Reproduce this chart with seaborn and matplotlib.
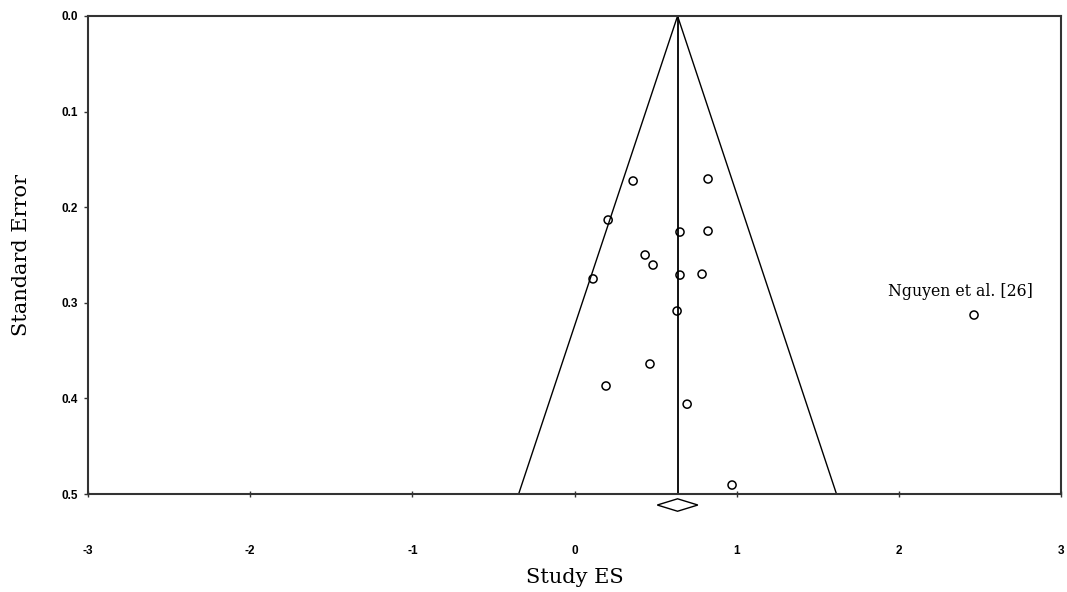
import numpy as np
import pandas as pd
import matplotlib
matplotlib.use("Agg")
import matplotlib.pyplot as plt
import seaborn as sns

# study effect sizes and standard errors
es = [0.361, 0.823, 0.207, 0.650, 0.823, 0.435, 0.484, 0.650, 0.786, 0.114,
      0.632, 0.465, 0.194, 0.694, 0.971, 2.463]
se = [0.1726, 0.1705, 0.2134, 0.226, 0.225, 0.250, 0.2605, 0.271, 0.270, 0.275,
      0.3086, 0.364, 0.387, 0.406, 0.4906, 0.3128]
pooled_es = 0.635
pooled_lo = 0.51
pooled_hi = 0.76
se_max = 0.5
outlier_label = "Nguyen et al. [26]"
x_ticks = [-3, -2, -1, 0, 1, 2, 3]
y_ticks = [0.0, 0.1, 0.2, 0.3, 0.4, 0.5]

df = pd.DataFrame({"es": es, "se": se})

sns.set_style("ticks")
plt.rcParams["font.family"] = ["Liberation Sans", "DejaVu Sans"]
plt.rcParams["text.color"] = "black"
plt.rcParams["axes.labelcolor"] = "black"
plt.rcParams["xtick.labelcolor"] = "black"
plt.rcParams["ytick.labelcolor"] = "black"

fig = plt.figure(figsize=(10.67, 5.92), dpi=100)
ax = fig.add_axes([0.0825, 0.1655, 0.912, 0.8075])

# funnel
ax.plot([pooled_es - 1.96 * se_max, pooled_es, pooled_es + 1.96 * se_max],
        [se_max, 0, se_max], color="black", lw=1.0)
ax.plot([pooled_es, pooled_es], [0, se_max], color="black", lw=1.3)

sns.scatterplot(data=df, x="es", y="se", ax=ax, marker="o", s=34,
                facecolor="none", edgecolor="black", linewidth=1.1, zorder=3)

# pooled diamond below the axis
d = 0.0065
ax.fill([pooled_lo, pooled_es, pooled_hi, pooled_es],
        [se_max + 0.0115, se_max + 0.0115 - d, se_max + 0.0115, se_max + 0.0115 + d],
        facecolor="white", edgecolor="black", lw=1.0, clip_on=False, zorder=4)

ax.annotate(outlier_label, (es[-1], se[-1]), xytext=(-10, 11), textcoords="offset points",
            ha="center", va="bottom", fontsize=11.3, family=["DejaVu Serif"])

ax.set_xlim(-3, 3)
ax.set_ylim(0.5, 0.0)
ax.set_xticks(x_ticks)
ax.set_yticks(y_ticks)
ax.set_xticklabels([str(t) for t in x_ticks])
ax.set_yticklabels([f"{t:.1f}" for t in y_ticks])
ax.tick_params(axis="x", bottom=True, direction="inout", length=5, width=1, pad=34,
               labelsize=8.5, color="#333333")
ax.tick_params(axis="y", left=True, direction="out", length=3, width=1, pad=4,
               labelsize=8.5, color="#333333")
for lab in ax.get_xticklabels() + ax.get_yticklabels():
    lab.set_fontweight("bold")

for sp in ax.spines.values():
    sp.set_visible(True)
    sp.set_color("#333333")
    sp.set_linewidth(1.5)

ax.set_xlabel("Study ES", fontsize=15, family=["DejaVu Serif"], labelpad=8)
ax.set_ylabel("Standard Error", fontsize=15, family=["DejaVu Serif"], labelpad=22)

fig.savefig("out.png", dpi=100)
